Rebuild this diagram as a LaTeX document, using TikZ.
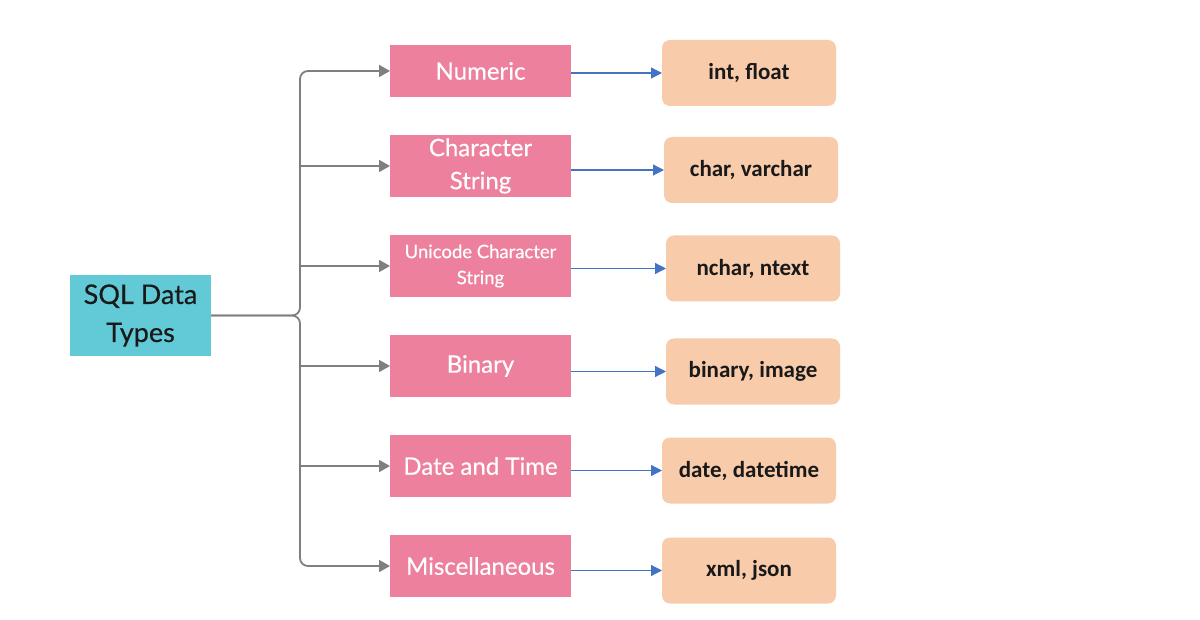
\documentclass[tikz,border=0pt]{standalone}
\usepackage{fontspec}
\setmainfont{Lato}[FakeBold=0.4]
\newfontfamily\calib{Carlito}
\usetikzlibrary{arrows.meta}
\definecolor{sqlteal}{HTML}{62C9D6}
\definecolor{sqlpink}{HTML}{ED809C}
\definecolor{sqlpeach}{HTML}{F8CBAB}
\definecolor{sqlgray}{HTML}{7F7F7F}
\definecolor{sqlblue}{HTML}{4472C4}
\begin{document}
\begin{tikzpicture}[x=1pt,y=-1pt,
  rootbox/.style={fill=sqlteal,draw=none,minimum width=141pt,minimum height=81pt,inner sep=0pt,outer sep=0pt,align=center,font=\fontsize{27}{38}\selectfont,text=black!90},
  catbox/.style={fill=sqlpink,draw=none,minimum width=181pt,minimum height=62pt,inner sep=0pt,outer sep=0pt,align=center,text=white,font=\fontsize{24}{33}\selectfont},
  exbox/.style={fill=sqlpeach,draw=none,rounded corners=8pt,minimum width=174pt,minimum height=66pt,inner sep=0pt,outer sep=0pt,text=black!90,font=\calib\bfseries\fontsize{23}{27}\selectfont},
  garrow/.style={draw=sqlgray,line width=1.8pt,-{Triangle[length=11pt,width=12pt]}},
  barrow/.style={draw=sqlblue,line width=1.2pt,-{Triangle[length=11pt,width=11pt]}}]
\useasboundingbox (0,0) rectangle (1200,620);

\node[rootbox] (root) at (140.5,315.5) {SQL Data\\Types};

\node[catbox,minimum height=52pt] (n1) at (480.5,71) {Numeric};
\node[catbox] (n2) at (480.5,166) {Character\\String};
\node[catbox,font=\fontsize{18.5}{26}\selectfont] (n3) at (480.5,266) {Unicode Character\\String};
\node[catbox] (n4) at (480.5,366) {Binary};
\node[catbox] (n5) at (480.5,466) {Date and Time};
\node[catbox] (n6) at (480.5,566) {Miscellaneous};

\node[exbox] (o1) at (749,73) {int, float};
\node[exbox] (o2) at (751,170) {char, varchar};
\node[exbox] (o3) at (753,268.5) {nchar, ntext};
\node[exbox] (o4) at (753,371.5) {binary, image};
\node[exbox] (o5) at (749,470.5) {date, datetime};
\node[exbox] (o6) at (749,570.5) {xml, json};

\coordinate (J) at (300,316);
\draw[garrow,rounded corners=8pt] (root.east) -| (J |- n1.west) -- (n1.west);
\draw[garrow,rounded corners=8pt] (root.east) -| (J |- n6.west) -- (n6.west);
\draw[garrow] (J |- n2.west) -- (n2.west);
\draw[garrow] (J |- n3.west) -- (n3.west);
\draw[garrow] (J |- n4.west) -- (n4.west);
\draw[garrow] (J |- n5.west) -- (n5.west);

\draw[barrow] (o1.west -| n1.east) -- (o1.west);
\draw[barrow] (o2.west -| n2.east) -- (o2.west);
\draw[barrow] (o3.west -| n3.east) -- (o3.west);
\draw[barrow] (o4.west -| n4.east) -- (o4.west);
\draw[barrow] (o5.west -| n5.east) -- (o5.west);
\draw[barrow] (o6.west -| n6.east) -- (o6.west);
\end{tikzpicture}
\end{document}
